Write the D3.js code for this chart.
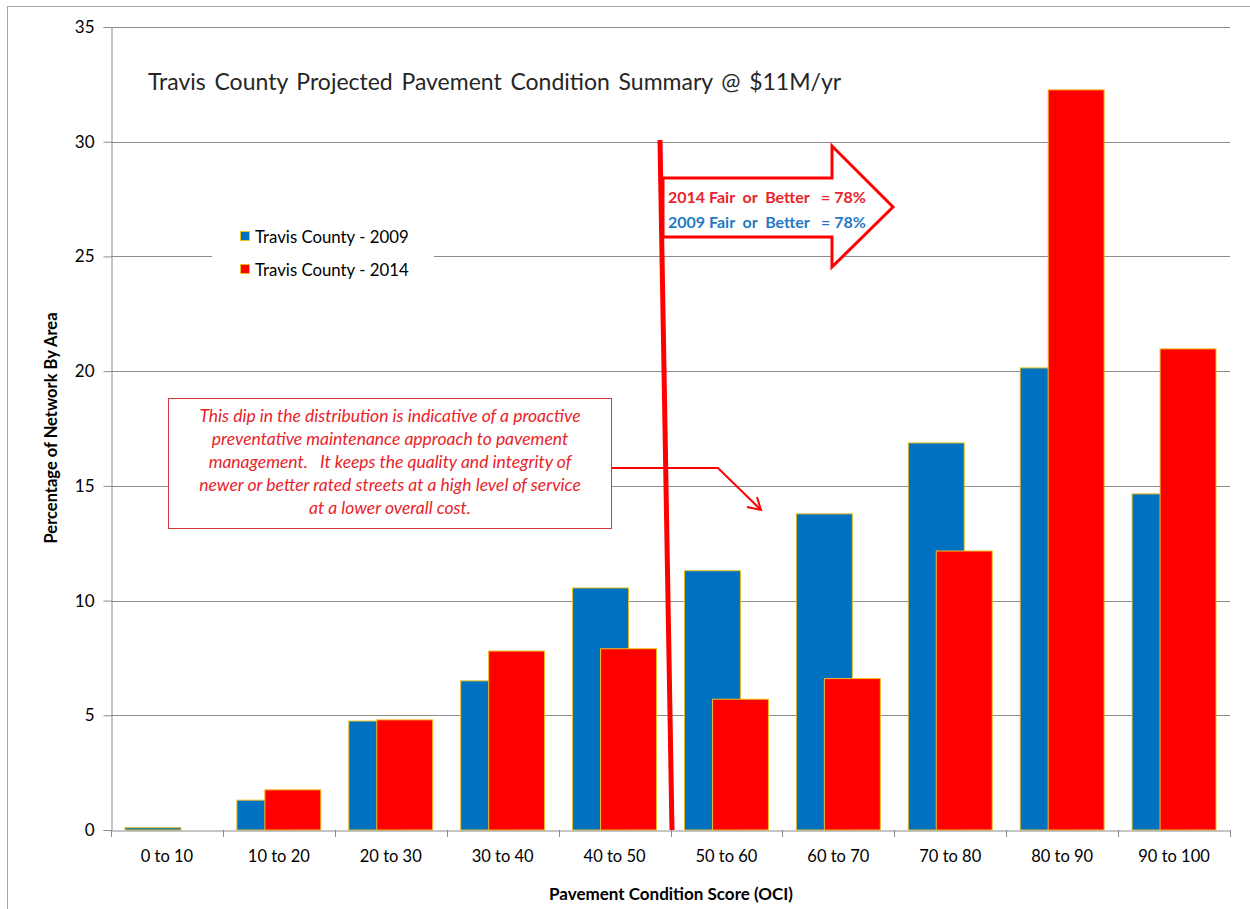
<!DOCTYPE html>
<html>
<head>
<meta charset="utf-8">
<script src="https://cdn.jsdelivr.net/npm/d3@7"></script>
<style>
  body { margin: 0; background: #fff; }
  svg { display: block; font-family: Lato, "Open Sans", sans-serif; }
</style>
</head>
<body>
<div id="chart"></div>
<script>
// Chart values
const categories = ["0 to 10", "10 to 20", "20 to 30", "30 to 40", "40 to 50",
                    "50 to 60", "60 to 70", "70 to 80", "80 to 90", "90 to 100"];
const values2009 = [0.1, 1.3, 4.75, 6.5, 10.55, 11.3, 13.78, 16.87, 20.14, 14.65];
const values2014 = [0, 1.75, 4.8, 7.8, 7.9, 5.7, 6.6, 12.16, 32.26, 20.97];
const yTicks = [0, 5, 10, 15, 20, 25, 30, 35];
const seriesNames = ["Travis County - 2009", "Travis County - 2014"];
const fairLabels = ["2014 Fair  or  Better   = 78%", "2009 Fair  or  Better   = 78%"];
const noteLines = [
    "This dip in the distribution is indicative of a proactive",
    "preventative maintenance approach to pavement",
    "management.   It keeps the quality and integrity of",
    "newer or better rated streets at a high level of service",
    "at a lower overall cost."
];

const BLUE = '#0070c0';
const RED = '#ff0000';

const width = 1250, height = 909;
const svg = d3.select('#chart').append('svg')
    .attr('width', width)
    .attr('height', height);

// outer chart frame
svg.append('rect')
    .attr('x', 7.5).attr('y', 6.5)
    .attr('width', 1260).attr('height', 920)
    .attr('fill', 'none')
    .attr('stroke', '#a6a6a6');

const x = d3.scaleBand().domain(categories).range([111, 1230]);
const y = d3.scaleLinear().domain([0, 35]).range([830, 27]);
const bw = x.bandwidth();

// gridlines
svg.append('g').selectAll('line')
    .data(yTicks.filter(d => d > 0))
    .enter().append('line')
    .attr('x1', 111).attr('x2', 1230)
    .attr('y1', d => Math.round(y(d)) + 0.5)
    .attr('y2', d => Math.round(y(d)) + 0.5)
    .attr('stroke', '#8c8c8c');

// bars: 2009 behind, 2014 overlapping
svg.append('g').selectAll('rect')
    .data(categories)
    .enter().append('rect')
    .attr('x', d => x(d) + bw * 0.125)
    .attr('width', bw * 0.5)
    .attr('y', (d, i) => y(values2009[i]))
    .attr('height', (d, i) => y(0) - y(values2009[i]))
    .attr('fill', BLUE)
    .attr('stroke', '#e8c020')
    .attr('stroke-width', 1);

svg.append('g').selectAll('rect')
    .data(categories.filter((d, i) => values2014[i] > 0))
    .enter().append('rect')
    .attr('x', d => x(d) + bw * 0.375)
    .attr('width', bw * 0.5)
    .attr('y', d => y(values2014[categories.indexOf(d)]))
    .attr('height', d => y(0) - y(values2014[categories.indexOf(d)]))
    .attr('fill', RED)
    .attr('stroke', '#f0c020')
    .attr('stroke-width', 1);

// y axis
const yAxis = svg.append('g')
    .attr('transform', 'translate(111.5,0)')
    .call(d3.axisLeft(y).tickValues(yTicks).tickSize(8).tickPadding(9));
yAxis.select('.domain').attr('stroke', '#8c8c8c');
yAxis.selectAll('.tick line').attr('stroke', '#8c8c8c');
yAxis.selectAll('.tick text')
    .attr('font-family', 'Lato, sans-serif')
    .attr('font-size', 17)
    .attr('fill', '#000');

// x axis
const xAxis = svg.append('g')
    .attr('transform', 'translate(0,830.5)')
    .call(d3.axisBottom(x).tickSize(0).tickPadding(20));
xAxis.select('.domain').attr('stroke', '#8c8c8c');
xAxis.selectAll('.tick text')
    .attr('font-family', 'Lato, sans-serif')
    .attr('font-size', 16.5)
    .attr('fill', '#000');
svg.append('g').selectAll('line')
    .data(d3.range(categories.length + 1))
    .enter().append('line')
    .attr('x1', i => Math.round(111 + i * bw) + 0.5)
    .attr('x2', i => Math.round(111 + i * bw) + 0.5)
    .attr('y1', 830).attr('y2', 837)
    .attr('stroke', '#8c8c8c');

// axis titles
svg.append('text')
    .attr('transform', 'translate(57,428) rotate(-90)')
    .attr('text-anchor', 'middle')
    .attr('font-size', 16.5)
    .attr('font-weight', 'bold')
    .text('Percentage of Network By Area');

svg.append('text')
    .attr('x', 671).attr('y', 900)
    .attr('text-anchor', 'middle')
    .attr('font-size', 17)
    .attr('font-weight', 'bold')
    .text('Pavement Condition Score (OCI)');

// chart title
svg.append('text')
    .attr('x', 148).attr('y', 90)
    .attr('font-size', 23)
    .attr('fill', '#262626')
    .attr('word-spacing', 2.8)
    .text('Travis County Projected Pavement Condition Summary @ $11M/yr');

// legend
const legend = svg.append('g');
legend.append('rect')
    .attr('x', 212).attr('y', 218).attr('width', 222).attr('height', 68)
    .attr('fill', '#fff');
seriesNames.forEach((name, i) => {
    legend.append('rect')
        .attr('x', 240.5).attr('y', 231.5 + i * 33)
        .attr('width', 9).attr('height', 9)
        .attr('fill', i === 0 ? BLUE : RED)
        .attr('stroke', '#e8c020');
    legend.append('text')
        .attr('x', 255).attr('y', 243 + i * 33)
        .attr('font-size', 16.8)
        .text(name);
});

// annotation box
svg.append('rect')
    .attr('x', 168.5).attr('y', 398.5).attr('width', 443).attr('height', 130)
    .attr('fill', '#fff')
    .attr('stroke', '#d9383a');
svg.append('g').selectAll('text')
    .data(noteLines)
    .enter().append('text')
    .attr('x', 390)
    .attr('y', (d, i) => 422 + i * 23)
    .attr('text-anchor', 'middle')
    .attr('font-size', 17.5)
    .attr('font-style', 'italic')
    .attr('fill', '#e8242a')
    .style('white-space', 'pre')
    .text(d => d);

// connector from note to the dip
svg.append('path')
    .attr('d', 'M612,468 H718 L760,509')
    .attr('fill', 'none')
    .attr('stroke', RED)
    .attr('stroke-width', 2);
svg.append('path')
    .attr('d', 'M747,507 L761,510 L757,497')
    .attr('fill', 'none')
    .attr('stroke', RED)
    .attr('stroke-width', 2);

// big arrow
svg.append('path')
    .attr('d', 'M663,178 H832 V146 L893,207 L832,267 V237 H663 Z')
    .attr('fill', '#fff')
    .attr('stroke', RED)
    .attr('stroke-width', 3);
fairLabels.forEach((t, i) => {
    svg.append('text')
        .attr('x', 668).attr('y', 203 + i * 25)
        .attr('font-size', 16)
        .attr('font-weight', 'bold')
        .attr('fill', i === 0 ? '#e8242a' : '#1f7bc4')
        .style('white-space', 'pre')
        .text(t);
});

// divider line
svg.append('line')
    .attr('x1', 660).attr('y1', 140)
    .attr('x2', 672).attr('y2', 830)
    .attr('stroke', RED)
    .attr('stroke-width', 5);
</script>
</body>
</html>
